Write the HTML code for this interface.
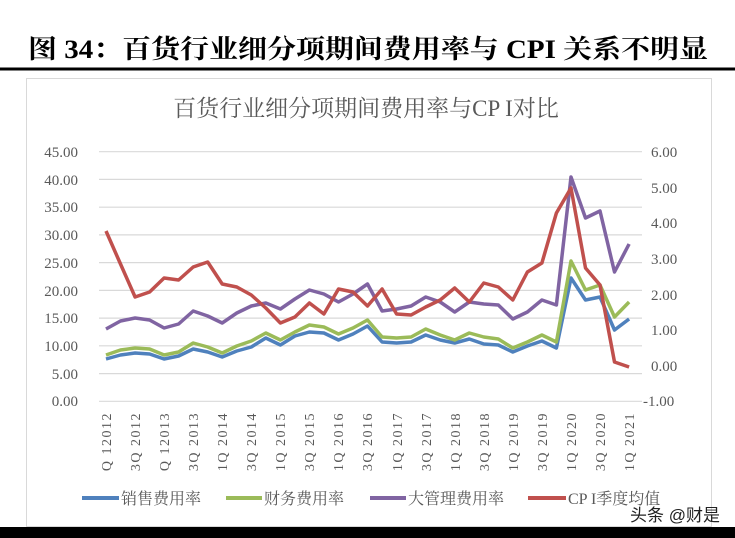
<!DOCTYPE html>
<html><head><meta charset="utf-8"><style>
body{margin:0;width:735px;height:538px;background:#fff;overflow:hidden;position:relative;font-family:"Liberation Serif","Noto Serif CJK SC",serif}
</style></head><body>
<svg width="735" height="538" xmlns="http://www.w3.org/2000/svg" style="position:absolute;left:0;top:0">
<text x="28" y="58" font-size="26" font-weight="bold" fill="#000" font-family="Liberation Serif, Noto Serif CJK SC, serif" textLength="680" lengthAdjust="spacingAndGlyphs">图 34：百货行业细分项期间费用率与 CPI 关系不明显</text>
<rect x="0" y="67.5" width="735" height="3" fill="#000"/>
<rect x="26.5" y="78.5" width="685" height="448" fill="#fff" stroke="#d9d9d9"/>
<text x="366" y="116" font-size="23" fill="#595959" text-anchor="middle" font-family="Liberation Serif, Noto Serif CJK SC, serif">百货行业细分项期间费用率与CP I对比</text>
<g stroke="#d9d9d9" stroke-width="1.2">
<line x1="99" x2="642" y1="151.7" y2="151.7"/><line x1="99" x2="642" y1="179.4" y2="179.4"/><line x1="99" x2="642" y1="207.2" y2="207.2"/><line x1="99" x2="642" y1="234.9" y2="234.9"/><line x1="99" x2="642" y1="262.6" y2="262.6"/><line x1="99" x2="642" y1="290.4" y2="290.4"/><line x1="99" x2="642" y1="318.1" y2="318.1"/><line x1="99" x2="642" y1="345.8" y2="345.8"/><line x1="99" x2="642" y1="373.6" y2="373.6"/><line x1="99" x2="642" y1="401.3" y2="401.3"/>
</g>
<g font-size="15" fill="#595959" text-anchor="end">
<text x="78" y="157">45.00</text><text x="78" y="185">40.00</text><text x="78" y="212">35.00</text><text x="78" y="240">30.00</text><text x="78" y="268">25.00</text><text x="78" y="296">20.00</text><text x="78" y="323">15.00</text><text x="78" y="351">10.00</text><text x="78" y="379">5.00</text><text x="78" y="406">0.00</text>
</g>
<g font-size="15" fill="#595959" text-anchor="start">
<text x="651" y="157">6.00</text><text x="651" y="193">5.00</text><text x="651" y="228">4.00</text><text x="651" y="264">3.00</text><text x="651" y="300">2.00</text><text x="651" y="335">1.00</text><text x="651" y="371">0.00</text><text x="643" y="406">-1.00</text>
</g>
<g font-size="14" fill="#595959" text-anchor="end" letter-spacing="1.5">
<text transform="translate(111,412) rotate(-90)">Q 12012</text>
<text transform="translate(140,412) rotate(-90)">3Q 2012</text>
<text transform="translate(169,412) rotate(-90)">Q 12013</text>
<text transform="translate(198,412) rotate(-90)">3Q 2013</text>
<text transform="translate(227,412) rotate(-90)">1Q 2014</text>
<text transform="translate(256,412) rotate(-90)">3Q 2014</text>
<text transform="translate(285,412) rotate(-90)">1Q 2015</text>
<text transform="translate(314,412) rotate(-90)">3Q 2015</text>
<text transform="translate(343,412) rotate(-90)">1Q 2016</text>
<text transform="translate(372,412) rotate(-90)">3Q 2016</text>
<text transform="translate(402,412) rotate(-90)">1Q 2017</text>
<text transform="translate(431,412) rotate(-90)">3Q 2017</text>
<text transform="translate(460,412) rotate(-90)">1Q 2018</text>
<text transform="translate(489,412) rotate(-90)">3Q 2018</text>
<text transform="translate(518,412) rotate(-90)">1Q 2019</text>
<text transform="translate(547,412) rotate(-90)">3Q 2019</text>
<text transform="translate(576,412) rotate(-90)">1Q 2020</text>
<text transform="translate(605,412) rotate(-90)">3Q 2020</text>
<text transform="translate(634,412) rotate(-90)">1Q 2021</text>
</g>
<g fill="none" stroke-width="3.5" stroke-linejoin="round">
<polyline id="s" stroke="#4f81bd" points=""/>
<polyline id="g" stroke="#9bbb59" points=""/>
<polyline id="p" stroke="#8064a2" points=""/>
<polyline id="r" stroke="#c0504d" points=""/>
</g>
<g font-size="16" fill="#595959">
<line x1="82" x2="119" y1="498" y2="498" stroke="#4f81bd" stroke-width="4"/><text x="121" y="504">销售费用率</text>
<line x1="226" x2="262" y1="498" y2="498" stroke="#9bbb59" stroke-width="4"/><text x="264" y="504">财务费用率</text>
<line x1="370" x2="406" y1="498" y2="498" stroke="#8064a2" stroke-width="4"/><text x="408" y="504">大管理费用率</text>
<line x1="528" x2="566" y1="498" y2="498" stroke="#c0504d" stroke-width="4"/><text x="568" y="504">CP I季度均值</text>
</g>
<text x="630" y="521" font-size="17" fill="#222" font-family="Liberation Sans, Noto Sans CJK SC, sans-serif">头条 @财是</text>
<rect x="0" y="527" width="735" height="11" fill="#000"/>
</svg>
<script>
var d={
s:[359,355,353,354,359,356,349,352,357,351,347,338,345,336,332,333,340,334,326,342,343,342,335,340,343,339,344,345,352,346,341,348,278,300,297,330,319],
g:[355,350,348,349,355,352,343,347,353,346,341,333,340,332,325,327,334,328,320,337,338,337,329,335,340,333,337,339,348,342,335,342,261,290,285,317,302],
p:[329,321,318,320,328,324,311,316,323,313,306,303,309,299,290,294,302,294,284,311,309,306,297,302,312,302,304,305,319,312,300,305,177,218,211,272,244],
r:[231,264,297,292,278,280,267,262,284,287,295,308,323,317,303,314,289,292,306,289,314,315,307,300,288,302,283,287,300,272,263,213,188,268,285,362,367]};
for(var k in d){var pts=d[k].map(function(y,i){return (106+i*14.53).toFixed(1)+","+y}).join(" ");document.getElementById(k).setAttribute("points",pts);}
</script>
</body></html>
